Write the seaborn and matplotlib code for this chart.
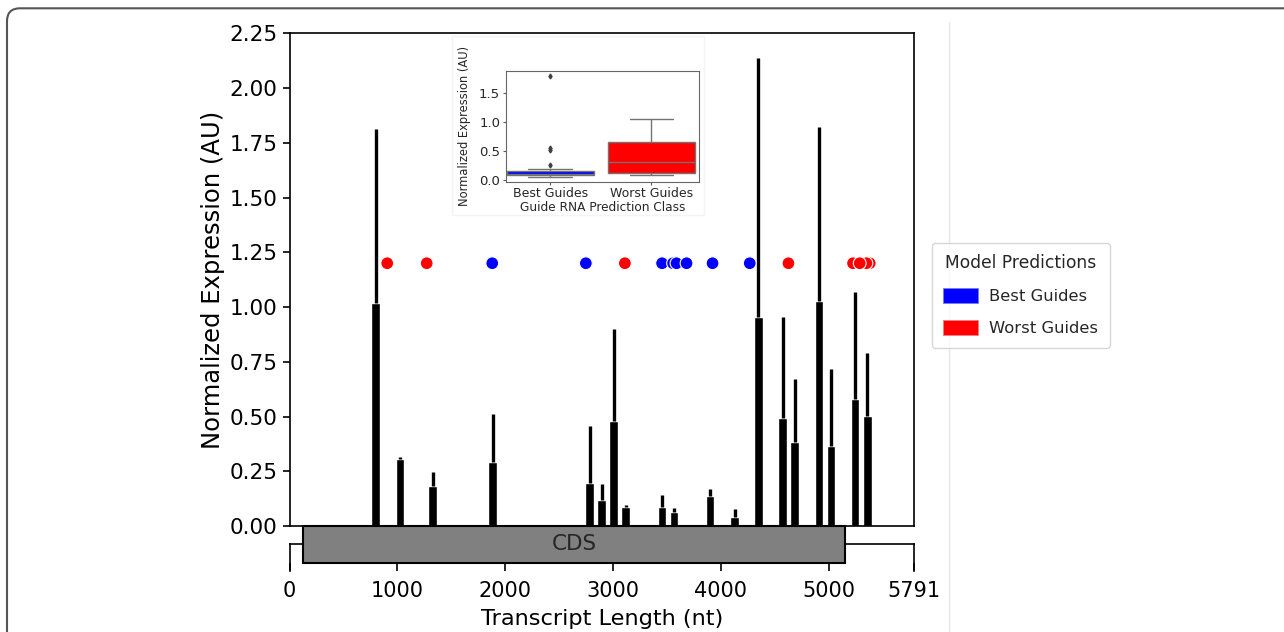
# Guide RNA expression along the transcript, with an inset boxplot by prediction class

import numpy as np
import pandas as pd
import matplotlib
matplotlib.use("Agg")
import matplotlib.pyplot as plt
from matplotlib.patches import Rectangle, Patch, FancyBboxPatch
from matplotlib.lines import Line2D
import seaborn as sns

# measured bars: position on transcript (nt), mean expression, top of error bar
bar_pos = [799, 1024, 1327, 1883, 2783, 2894, 3005, 3116, 3453, 3567,
           3900, 4127, 4349, 4574, 4686, 4911, 5022, 5244, 5359]
bar_mean = [1.02, 0.305, 0.184, 0.294, 0.197, 0.120, 0.480, 0.085, 0.088, 0.063,
            0.136, 0.040, 0.954, 0.491, 0.383, 1.029, 0.367, 0.582, 0.502]
bar_top = [1.814, 0.315, 0.248, 0.512, 0.459, 0.192, 0.901, 0.097, 0.140, 0.080,
           0.168, 0.079, 2.139, 0.953, 0.671, 1.823, 0.715, 1.067, 0.791]

# predicted guides (drawn in this order)
guide_pos = [906, 1272, 1880, 2748, 3110, 3455, 3557, 3589, 3682, 3923,
             4268, 4627, 5381, 5350, 5226, 5288]
guide_class = ['Worst Guides', 'Worst Guides', 'Best Guides', 'Best Guides', 'Worst Guides',
               'Best Guides', 'Best Guides', 'Best Guides', 'Best Guides', 'Best Guides',
               'Best Guides', 'Worst Guides', 'Worst Guides', 'Worst Guides', 'Worst Guides',
               'Worst Guides']
guide_y = 1.2

# inset boxplot values
best_expr = [0.052, 0.058, 0.064, 0.068, 0.072, 0.075, 0.08, 0.085, 0.09, 0.095, 0.10,
             0.11, 0.12, 0.13, 0.14, 0.144, 0.185, 0.26, 0.51, 0.54, 1.79]
worst_expr = [0.08, 0.09, 0.13, 0.29, 0.33, 0.60, 0.79, 1.05]

transcript_len = 5791
cds_start, cds_end = 128, 5149
x_ticks = [0, 1000, 2000, 3000, 4000, 5000, 5791]
y_ticks = [0, 0.25, 0.5, 0.75, 1.0, 1.25, 1.5, 1.75, 2.0, 2.25]
palette = {'Best Guides': 'blue', 'Worst Guides': 'red'}

sns.set_style("ticks")
plt.rcParams['font.family'] = ['DejaVu Sans']

fig = plt.figure(figsize=(12.84, 6.32), dpi=100)

# main axes
ax = fig.add_axes([0.2255, 0.1677, 0.4863, 0.7796])
err_up = np.array(bar_top) - np.array(bar_mean)
ax.bar(bar_pos, bar_mean, width=80, color='black',
       yerr=[np.zeros(len(err_up)), err_up],
       error_kw=dict(elinewidth=2.4, ecolor='black', capsize=0))

guides = pd.DataFrame({'pos': guide_pos, 'expr': guide_y, 'cls': guide_class})
sns.scatterplot(data=guides, x='pos', y='expr', hue='cls', palette=palette, s=85,
                edgecolor='white', linewidth=0.8, legend=False, ax=ax, zorder=3)

ax.set_xlim(0, transcript_len)
ax.set_ylim(0, 2.25)
ax.set_yticks(y_ticks)
ax.set_yticklabels([f'{v:.2f}' for v in y_ticks])
ax.tick_params(axis='x', bottom=False, labelbottom=False)
ax.tick_params(axis='y', length=5, width=1.2, labelsize=15.5, color='black', labelcolor='black')
ax.set_xlabel('')
ax.set_ylabel('Normalized Expression (AU)', fontsize=17.5, color='black', labelpad=3)
for sp in ax.spines.values():
    sp.set_visible(True)
    sp.set_color('black')
    sp.set_linewidth(1.2)

# gene diagram axis
ax2 = fig.add_axes([0.2255, 0.0965, 0.4863, 0.0427])
ax2.set_xlim(0, transcript_len)
ax2.set_ylim(0, 1)
ax2.set_yticks([])
ax2.set_xticks(x_ticks)
ax2.set_xticklabels([str(t) for t in x_ticks])
ax2.tick_params(axis='x', direction='in', length=6, width=1.2, pad=7, labelsize=15,
                color='black', labelcolor='black')
ax2.spines['bottom'].set_visible(False)
for s in ['top', 'left', 'right']:
    ax2.spines[s].set_visible(True)
    ax2.spines[s].set_color('black')
    ax2.spines[s].set_linewidth(1.2)
ax2.set_xlabel('Transcript Length (nt)', fontsize=16.2, color='black', labelpad=6)
ax2.add_patch(Rectangle((cds_start, 0.307), cds_end - cds_start, 1.36, facecolor='#808080',
                        edgecolor='black', linewidth=1.5, clip_on=False, zorder=5))
ax2.text((cds_start + cds_end) / 2, 0.99, 'CDS', ha='center', va='center',
         fontsize=15.5, zorder=6, clip_on=False)

# inset background
fig.add_artist(Rectangle((452 / 1284, 1 - 215 / 632), 252 / 1284, 179 / 632,
                         transform=fig.transFigure, facecolor='white',
                         edgecolor='#f4f4f4', linewidth=1, zorder=1))

# inset boxplot
axi = fig.add_axes([0.3938, 0.7125, 0.1505, 0.1756], zorder=2)
box_df = pd.DataFrame({
    'cls': ['Best Guides'] * len(best_expr) + ['Worst Guides'] * len(worst_expr),
    'val': best_expr + worst_expr,
})
sns.boxplot(data=box_df, x='cls', y='val', hue='cls', palette=palette, saturation=1,
            width=0.86, linecolor='0.45', linewidth=1, legend=False, ax=axi,
            flierprops=dict(marker='d', markersize=2.5, markerfacecolor='0.25',
                            markeredgecolor='0.25'))
axi.set_xlim(-0.44, 1.47)
axi.set_xlabel('Guide RNA Prediction Class', fontsize=8.7, color='0.15', labelpad=0.5)
axi.set_ylabel('Normalized Expression (AU)', fontsize=8.3, color='0.15', labelpad=6)
axi.tick_params(axis='x', labelsize=9, length=2.5, width=0.8, pad=1.5, color='0.35',
                labelcolor='0.15')
axi.tick_params(axis='y', labelsize=9.5, length=2.5, width=0.8, pad=1.5, color='0.35',
                labelcolor='0.15')
for sp in axi.spines.values():
    sp.set_visible(True)
    sp.set_color('0.4')
    sp.set_linewidth(0.8)

# legend
handles = [Patch(facecolor='blue', edgecolor='#7777ff', linewidth=0.5, label='Best Guides'),
           Patch(facecolor='red', edgecolor='#ff7777', linewidth=0.5, label='Worst Guides')]
fig.legend(handles=handles, title='Model Predictions', loc='upper left',
           bbox_to_anchor=(931.7 / 1284, 1 - 242.7 / 632), borderaxespad=0,
           fontsize=11.8, title_fontsize=12.3, handlelength=2.1, handleheight=1.1,
           handletextpad=0.7, borderpad=0.7, labelspacing=0.95)

# page frame and separator
fig.add_artist(FancyBboxPatch((0.07, -0.6), 14, 6.32 - 0.083 + 0.6,
                              boxstyle='round,pad=0,rounding_size=0.13',
                              transform=fig.dpi_scale_trans, facecolor='none',
                              edgecolor='#555555', linewidth=1.5))
fig.add_artist(Line2D([949 / 1284, 949 / 1284], [0, 1 - 22 / 632], transform=fig.transFigure,
                      color='#e6e6e6', linewidth=1))

fig.savefig('out.png', dpi=100)
